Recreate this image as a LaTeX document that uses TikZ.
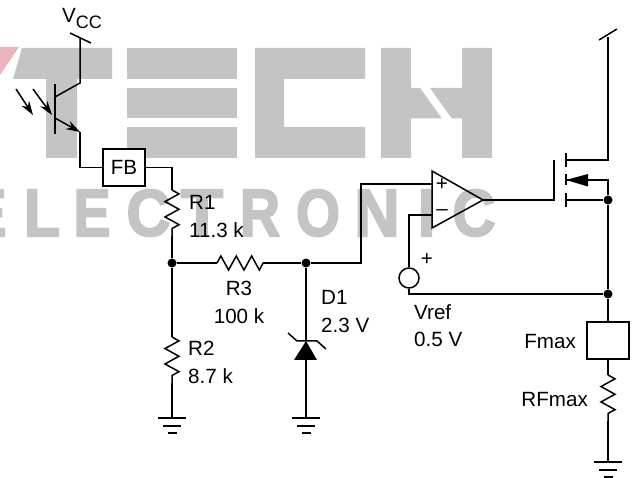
\documentclass[tikz,border=0pt]{standalone}
\usepackage{graphicx, xcolor}
\usepackage{fontspec}
\setmainfont{Liberation Sans}
\newfontfamily\wmfont[FakeBold=3]{Liberation Sans Bold}
\usetikzlibrary{arrows.meta, decorations.pathmorphing}
\definecolor{wmgray}{HTML}{C4C4C4}
\definecolor{wmpink}{HTML}{EDB4C0}
\tikzset{
  wire/.style={line width=1.5pt, line join=miter},
  rzig/.style={decorate, decoration={zigzag, segment length=15.4pt, amplitude=7pt}},
  lbl/.style={font=\fontsize{20.6}{22}\selectfont, inner sep=0pt, anchor=west},
  wmltr/.style={text=wmgray, inner sep=0pt},
  dot/.style={circle, fill=black, inner sep=0pt, minimum size=9pt},
  boxed/.style={draw, wire, fill=white, inner sep=0pt},
  ray/.style={wire, -{Stealth[length=14pt, width=9pt]}}
}
\newcommand{\wmchar}[2]{\resizebox{#1pt}{46pt}{\wmfont #2}}
\newcommand{\gnd}[1]{\draw[wire, shift={(#1)}] (-14,0) -- (14,0) (-9,8) -- (9,8) (-4.5,15) -- (4.5,15);}

\begin{document}
\begin{tikzpicture}[x=1pt, y=-1pt]
\useasboundingbox (0,0) rectangle (632,478);

% watermark
\fill[wmpink] (0,47) -- (19,47) -- (0,75) -- cycle;
\fill[wmgray] (22,48) -- (112,48) -- (112,79) -- (77,79) -- (77,158) -- (46,158) -- (46,79) -- (13,79) -- cycle;
\fill[wmgray] (127,48) rectangle (237,79);
\fill[wmgray] (127,88) rectangle (237,118);
\fill[wmgray] (127,127) rectangle (237,158);
\fill[wmgray] (255,48) -- (365,48) -- (365,79) -- (284,79) -- (284,127) -- (365,127) -- (365,158) -- (255,158) -- cycle;
\fill[wmgray] (381,48) -- (411,48) -- (411,88) -- (420,88) -- (442,118.5) -- (411,118.5) -- (411,158) -- (381,158) -- cycle;
\fill[wmgray] (462,48) -- (492,48) -- (492,158) -- (462,158) -- (462,118.5) -- (452,118.5) -- (430,88) -- (462,88) -- cycle;
\node[wmltr] (wmA) at (-12,213) {\wmchar{37}{E}};
\node[wmltr] (wmB) at (42,213) {\wmchar{36}{L}};
\node[wmltr] (wmC) at (92,213) {\wmchar{37}{E}};
\node[wmltr] (wmD) at (148.5,213) {\wmchar{44}{C}};
\node[wmltr] (wmE) at (202,213) {\wmchar{42}{T}};
\node[wmltr] (wmF) at (260,213) {\wmchar{40}{R}};
\node[wmltr] (wmG) at (318,213) {\wmchar{44}{O}};
\node[wmltr] (wmH) at (377,213) {\wmchar{45}{N}};
\node[wmltr] (wmI) at (426.5,213) {\wmchar{18}{I}};
\node[wmltr] (wmJ) at (474,213) {\wmchar{43}{C}};

% junctions
\node[dot] (jA) at (172,263) {};
\node[dot] (jB) at (306,263) {};
\node[dot] (jC) at (608,200) {};
\node[dot] (jD) at (608,294) {};

% phototransistor
\coordinate (vcc) at (80,38);
\coordinate (coll) at (80,83);
\coordinate (emit) at (80,132);
\coordinate (baseT) at (55,84);
\coordinate (baseB) at (55,134);
\coordinate (baseC) at (55,97);
\coordinate (baseE) at (55,118);
\draw[wire] (70,33) -- (91,43);
\draw[wire] (vcc) -- (coll) -- (baseC);
\draw[wire] (baseT) -- (baseB);
\draw[ray] (baseE) -- (emit);
\draw[ray] (16,89) -- (33,115);
\draw[ray] (33,89) -- (52,115);
\node[lbl] (vcclbl) at (62,19) {V\raisebox{-6pt}{\fontsize{18}{20}\selectfont CC}};

% feedback pin and divider
\node[boxed, minimum width=42pt, minimum height=37pt, font=\fontsize{20.6}{22}\selectfont] (fb) at (124,167.5) {FB};
\draw[wire] (emit) |- (fb);
\coordinate (rAt) at (172,190);
\coordinate (rAb) at (172,236);
\coordinate (rBt) at (172,337);
\coordinate (rBb) at (172,383);
\coordinate (rCl) at (217,263);
\coordinate (rCr) at (264,263);
\coordinate (gndA) at (172,418);
\coordinate (gndB) at (306,418);
\draw[wire] (fb) -| (rAt);
\draw[wire, rzig] (rAt) -- (rAb);
\draw[wire] (rAb) -- (jA) -- (rBt);
\draw[wire, rzig] (rBt) -- (rBb);
\draw[wire] (rBb) -- (gndA);
\gnd{gndA}
\draw[wire] (jA) -- (rCl);
\draw[wire, rzig] (rCl) -- (rCr);
\draw[wire] (rCr) -- (jB);

% zener
\coordinate (zk) at (306,341);
\coordinate (za) at (306,360);
\draw[wire] (jB) -- (zk);
\draw[wire] (288,333) -- (297,341) -- (317,341) -- (326,349);
\fill (zk) -- (317,360) -- (294,360) -- cycle;
\draw[wire] (za) -- (gndB);
\gnd{gndB}

% op amp
\coordinate (opT) at (432,171);
\coordinate (opB) at (432,228);
\coordinate (opO) at (483,200);
\coordinate (opP) at (432,184);
\coordinate (opM) at (432,215);
\draw[wire] (opT) -- (opO) -- (opB) -- cycle;
\node[font=\fontsize{20.6}{22}\selectfont, inner sep=0pt] (plus) at (442,185) {+};
\node[font=\fontsize{20.6}{22}\selectfont, inner sep=0pt] (minus) at (442,213) {--};
\coordinate (bend) at (361,184);
\draw[wire] (jB) -- (361,263) -- (bend) -- (opP);

% reference
\node[circle, draw, wire, inner sep=0pt, minimum size=20pt] (vref) at (409,278) {};
\draw[wire] (opM) -| (vref);
\draw[wire] (vref) |- (jD);
\node[font=\fontsize{20.6}{22}\selectfont, inner sep=0pt] (vplus) at (427,260) {+};

% mosfet
\coordinate (gate) at (554,200);
\coordinate (gateT) at (554,160);
\coordinate (chD) at (566,160);
\coordinate (chA) at (566,180);
\coordinate (chS) at (566,200);
\coordinate (drain) at (608,160);
\coordinate (rail) at (608,37);
\draw[wire] (opO) -- (gate) -- (gateT);
\draw[wire] (566,153) -- (566,167);
\draw[wire] (566,174) -- (566,185);
\draw[wire] (566,193) -- (566,207);
\draw[wire] (chD) -- (drain) -- (rail);
\draw[wire] (599,40) -- (617,29);
\draw[wire] (chS) -- (jC);
\draw[wire] (jC) |- (chA);
\fill (chA) -- (588,174) -- (588,186.5) -- cycle;
\draw[wire] (jC) -- (jD);

% fmax
\node[boxed, minimum width=42pt, minimum height=37pt] (fmax) at (608,340.5) {};
\coordinate (rDt) at (608,375);
\coordinate (rDb) at (608,421);
\coordinate (gndC) at (608,462);
\draw[wire] (jD) -- (fmax);
\draw[wire] (fmax) -- (rDt);
\draw[wire, rzig] (rDt) -- (rDb);
\draw[wire] (rDb) -- (gndC);
\gnd{gndC}

% labels
\node[lbl] (lblRa) at (189,202) {R1};
\node[lbl] (lblRaV) at (189,230) {11.3 k};
\node[lbl, anchor=center] (lblRc) at (239,288) {R3};
\node[lbl, anchor=center] (lblRcV) at (239,316) {100 k};
\node[lbl] (lblRb) at (188,348) {R2};
\node[lbl] (lblRbV) at (188,376) {8.7 k};
\node[lbl] (lblD) at (321,297) {D1};
\node[lbl] (lblDV) at (321,325) {2.3 V};
\node[lbl] (lblVref) at (414,312) {Vref};
\node[lbl] (lblVrefV) at (414,339) {0.5 V};
\node[lbl, anchor=east] (lblF) at (576,342) {Fmax};
\node[lbl, anchor=east] (lblRF) at (588,400) {RFmax};

\end{tikzpicture}
\end{document}
